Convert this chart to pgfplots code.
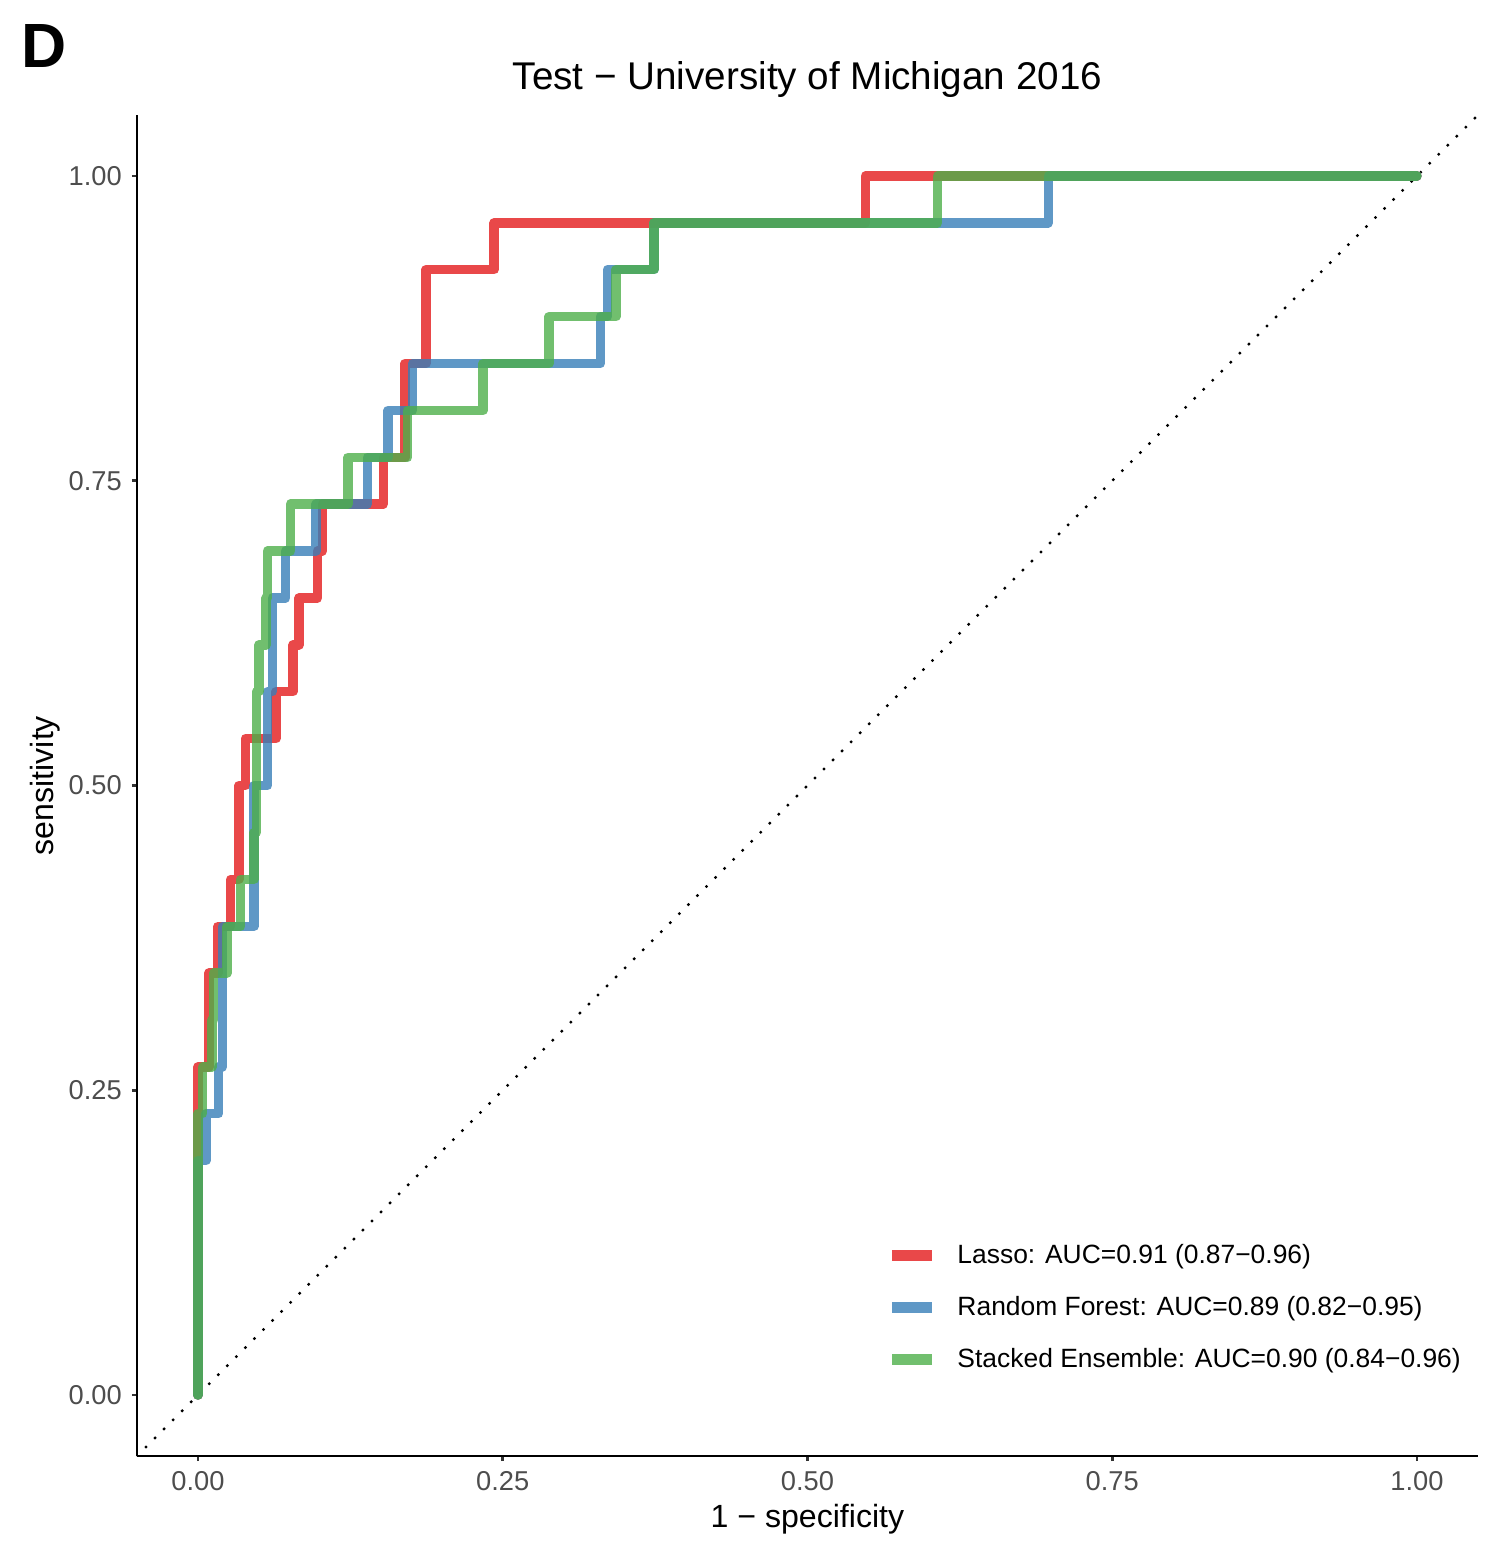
\documentclass[border=0pt]{standalone}
\usepackage{pgfplots}
\pgfplotsset{compat=1.18}
\usepackage{fontspec}
\setmainfont{Liberation Sans}
\definecolor{lred}{HTML}{E41A1C}
\definecolor{lblue}{HTML}{377EB8}
\definecolor{lgreen}{HTML}{4DAF4A}
\definecolor{tickgray}{HTML}{4D4D4D}
\definecolor{tickline}{HTML}{333333}
\begin{document}
\begin{tikzpicture}
\begin{axis}[
  at={(0,0)}, anchor=south west,
  scale only axis, width=472pt, height=472pt,
  xmin=-0.05, xmax=1.05, ymin=-0.05, ymax=1.05,
  axis lines=left,
  axis line style={-, black, line width=0.95pt},
  xtick={0,0.25,0.5,0.75,1}, ytick={0,0.25,0.5,0.75,1},
  xticklabels={0.00,0.25,0.50,0.75,1.00},
  yticklabels={0.00,0.25,0.50,0.75,1.00},
  tick align=outside, major tick length=1.8pt,
  tick style={tickline, line width=0.95pt},
  ticklabel style={font=\fontsize{9.6}{11}\selectfont, text=tickgray},
  title={Test − University of Michigan 2016},
  title style={font=\fontsize{13.6}{16}\selectfont, at={(axis description cs:0.5,1.0062)}, anchor=base, inner sep=0pt},
  xlabel={1 − specificity},
  xlabel style={font=\fontsize{11.3}{13}\selectfont, at={(axis description cs:0.5,-0.0536)}, anchor=base, inner sep=0pt},
  ylabel={sensitivity},
  ylabel style={font=\fontsize{11.3}{13}\selectfont, at={(axis description cs:-0.0686,0.5)}, anchor=center, inner sep=0pt},
  legend style={at={(axis description cs:0.5585,0.1585)}, anchor=north west, draw=none, fill=none,
    font=\fontsize{9.3}{11}\selectfont, inner sep=0pt, row sep=9.3pt, column sep=7.2pt,
    nodes={inner sep=0pt, text height=7pt, text depth=2pt}},
  legend cell align=left,
  legend image code/.code={\draw[line width=3.8pt, line cap=butt] (0pt,0.6pt) -- (14pt,0.6pt);},
  every axis plot/.append style={line width=3.3pt, line join=round, line cap=round, opacity=0.8},
]
\addplot[black, opacity=1, line width=1.2pt, dash pattern=on 0pt off 4.5pt, line cap=round, forget plot]
  coordinates {(-0.05,-0.05) (1.05,1.05)};
\addplot[lred] coordinates {
(0,0) (0,0.2692) (0.009,0.2692) (0.009,0.3462) (0.0164,0.3462) (0.0164,0.3846)
(0.027,0.3846) (0.027,0.4231) (0.0336,0.4231) (0.0336,0.5) (0.039,0.5) (0.039,0.5385)
(0.064,0.5385) (0.064,0.5769) (0.078,0.5769) (0.078,0.6154) (0.083,0.6154) (0.083,0.6538)
(0.098,0.6538) (0.098,0.6923) (0.102,0.6923) (0.102,0.7308) (0.152,0.7308) (0.152,0.7692)
(0.170,0.7692) (0.170,0.8462) (0.187,0.8462) (0.187,0.9231) (0.243,0.9231) (0.243,0.9615)
(0.5475,0.9615) (0.5475,1) (1,1)};
\addlegendentry{Lasso: AUC=0.91 (0.87−0.96)}
\addplot[lblue] coordinates {
(0,0) (0,0.1923) (0.0066,0.1923) (0.0066,0.2308) (0.017,0.2308) (0.017,0.2692)
(0.020,0.2692) (0.020,0.3846) (0.046,0.3846) (0.046,0.5) (0.057,0.5) (0.057,0.5769)
(0.061,0.5769) (0.061,0.6538) (0.072,0.6538) (0.072,0.6923) (0.097,0.6923) (0.097,0.7308)
(0.139,0.7308) (0.139,0.7692) (0.156,0.7692) (0.156,0.8077) (0.176,0.8077) (0.176,0.8462)
(0.330,0.8462) (0.330,0.8846) (0.336,0.8846) (0.336,0.9231) (0.374,0.9231) (0.374,0.9615)
(0.6975,0.9615) (0.6975,1) (1,1)};
\addlegendentry{Random Forest: AUC=0.89 (0.82−0.95)}
\addplot[lgreen] coordinates {
(0,0) (0,0.2308) (0.004,0.2308) (0.004,0.2692) (0.0115,0.2692) (0.0115,0.3077)
(0.013,0.3077) (0.013,0.3462) (0.024,0.3462) (0.024,0.3846) (0.035,0.3846) (0.035,0.4231)
(0.046,0.4231) (0.046,0.4615) (0.048,0.4615) (0.048,0.5769) (0.050,0.5769) (0.050,0.6154)
(0.056,0.6154) (0.056,0.6538) (0.057,0.6538) (0.057,0.6923) (0.076,0.6923) (0.076,0.7308)
(0.123,0.7308) (0.123,0.7692) (0.172,0.7692) (0.172,0.8077) (0.234,0.8077) (0.234,0.8462)
(0.288,0.8462) (0.288,0.8846) (0.343,0.8846) (0.343,0.9231) (0.374,0.9231) (0.374,0.9615)
(0.6066,0.9615) (0.6066,1) (1,1)};
\addlegendentry{Stacked Ensemble: AUC=0.90 (0.84−0.96)}
\end{axis}
\node[anchor=base west, inner sep=0pt, font=\fontsize{22}{24}\selectfont\bfseries] at (-40.8pt,488.9pt) {D};
\pgfresetboundingbox
\path[use as bounding box] (-48.2pt,-29.9pt) rectangle (475.6pt,512.5pt);
\end{tikzpicture}
\end{document}
